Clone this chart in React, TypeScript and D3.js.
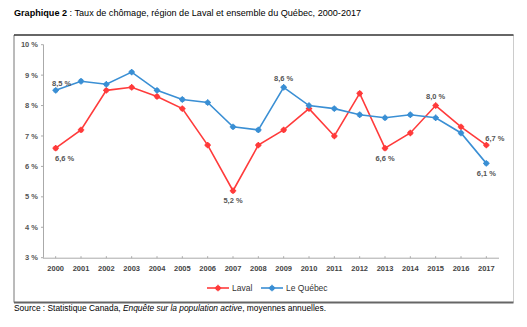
import React from "react";
import * as d3 from "d3";

const years = ["2000","2001","2002","2003","2004","2005","2006","2007","2008","2009","2010","2011","2012","2013","2014","2015","2016","2017"];
const laval = [6.6,7.2,8.5,8.6,8.3,7.9,6.7,5.2,6.7,7.2,7.9,7.0,8.4,6.6,7.1,8.0,7.3,6.7];
const quebec = [8.5,8.8,8.7,9.1,8.5,8.2,8.1,7.3,7.2,8.6,8.0,7.9,7.7,7.6,7.7,7.6,7.1,6.1];
const yTicks = [3,4,5,6,7,8,9,10];
const seriesNames = ["Laval","Le Québec"];
// labelled points: [series index, year index, position]
const labelled: [number, number, string][] = [
  [1, 0, "above"], [0, 0, "below"], [0, 7, "below"], [1, 9, "above"],
  [0, 13, "below"], [0, 15, "above"], [0, 17, "right"], [1, 17, "below"],
];

const RED = "#FF3B3B";
const BLUE = "#3A8FD4";
const FONT = "Liberation Sans, Arial, sans-serif";

export default function App() {
  const W = 527, H = 327;
  const x = d3.scaleBand().domain(years).range([43, 499]);
  const y = d3.scaleLinear().domain([3, 10]).range([257.7, 44.7]);
  const cx = (i: number) => (x(years[i]) as number) + x.bandwidth() / 2;
  const line = d3.line<number>().x((_, i) => cx(i)).y((d) => y(d));
  const data = [laval, quebec];
  const colors = [RED, BLUE];
  const fmt = (v: number) => v.toFixed(1).replace(".", ",") + " %";

  const marker = (px: number, py: number, c: string, k: string) => (
    <g key={k}>
      <circle cx={px} cy={py} r={2.6} fill={c} />
      <line x1={px} x2={px} y1={py - 3.2} y2={py + 3.2} stroke={c} strokeWidth={1.3} />
      <line x1={px - 3.2} x2={px + 3.2} y1={py} y2={py} stroke={c} strokeWidth={1.3} />
    </g>
  );

  return (
    <svg width={W} height={H} style={{ position: "absolute", left: 0, top: 0 }} fontFamily={FONT}>
      <rect width={W} height={H} fill="#fff" />
      <text x={14} y={16} fontSize={9.1} fill="#000">
        <tspan fontWeight="bold">Graphique 2</tspan>
        <tspan> : Taux de chômage, région de Laval et ensemble du Québec, 2000-2017</tspan>
      </text>
      {/* frame */}
      <line x1={14} x2={14} y1={35} y2={302.5} stroke="#777" strokeWidth={1} />
      <line x1={513.5} x2={513.5} y1={35} y2={302.5} stroke="#ccc" strokeWidth={1} />
      <line x1={14} x2={513.5} y1={35} y2={35} stroke="#333" strokeWidth={1.5} />
      <line x1={14} x2={513.5} y1={302.5} y2={302.5} stroke="#666" strokeWidth={2} />
      {/* y axis */}
      <line x1={43.5} x2={43.5} y1={y(10)} y2={y(3)} stroke="#aaa" strokeWidth={1} />
      {yTicks.map((t) => (
        <g key={t}>
          <line x1={41} x2={43.5} y1={y(t)} y2={y(t)} stroke="#aaa" />
          <text x={38} y={y(t)} dy="0.35em" textAnchor="end" fontSize={7.5} fontWeight="bold" fill="#555">
            {t} %
          </text>
        </g>
      ))}
      {/* x axis */}
      <line x1={43} x2={499} y1={y(3) + 0.5} y2={y(3) + 0.5} stroke="#aaa" />
      {years.map((yr, i) => (
        <g key={yr}>
          <line x1={cx(i)} x2={cx(i)} y1={y(3) - 1.5} y2={y(3) + 0.5} stroke="#aaa" />
          <text x={cx(i)} y={268} dy="0.35em" textAnchor="middle" fontSize={7.5} fontWeight="bold" fill="#444">
            {yr}
          </text>
        </g>
      ))}
      {/* series */}
      {data.map((s, si) => (
        <g key={si}>
          <path d={line(s) as string} fill="none" stroke={colors[si]} strokeWidth={1.6} />
          {s.map((v, i) => marker(cx(i), y(v), colors[si], `${si}-${i}`))}
        </g>
      ))}
      {/* data labels */}
      {labelled.map(([si, i, pos]) => {
        const v = data[si][i];
        const px = cx(i), py = y(v);
        let tx = px, ty = py, anchor: "start" | "middle" = "middle";
        if (pos === "above") ty = py - 9;
        if (pos === "below") ty = py + 10;
        if (pos === "right") { tx = px - 1; ty = py - 7; anchor = "start"; }
        if (si === 1 && i === 0) { tx = px + 6; ty = py - 7; }
        if (si === 0 && i === 0) { tx = px + 9; }
        return (
          <text key={`l${si}-${i}`} x={tx} y={ty} dy="0.35em" textAnchor={anchor} fontSize={7.5} fontWeight="bold" fill="#555">
            {fmt(v)}
          </text>
        );
      })}
      {/* legend */}
      {seriesNames.map((n, si) => {
        const x0 = si === 0 ? 207 : 261;
        return (
          <g key={n}>
            <line x1={x0} x2={x0 + 22} y1={288} y2={288} stroke={colors[si]} strokeWidth={1.6} />
            {marker(x0 + 11, 288, colors[si], `lg${si}`)}
            <text x={x0 + 25} y={288} dy="0.35em" fontSize={8.5} fill="#333">{n}</text>
          </g>
        );
      })}
      <text x={14} y={311} fontSize={8.4} fill="#000">
        <tspan>Source : Statistique Canada, </tspan>
        <tspan fontStyle="italic">Enquête sur la population active</tspan>
        <tspan>, moyennes annuelles.</tspan>
      </text>
    </svg>
  );
}
